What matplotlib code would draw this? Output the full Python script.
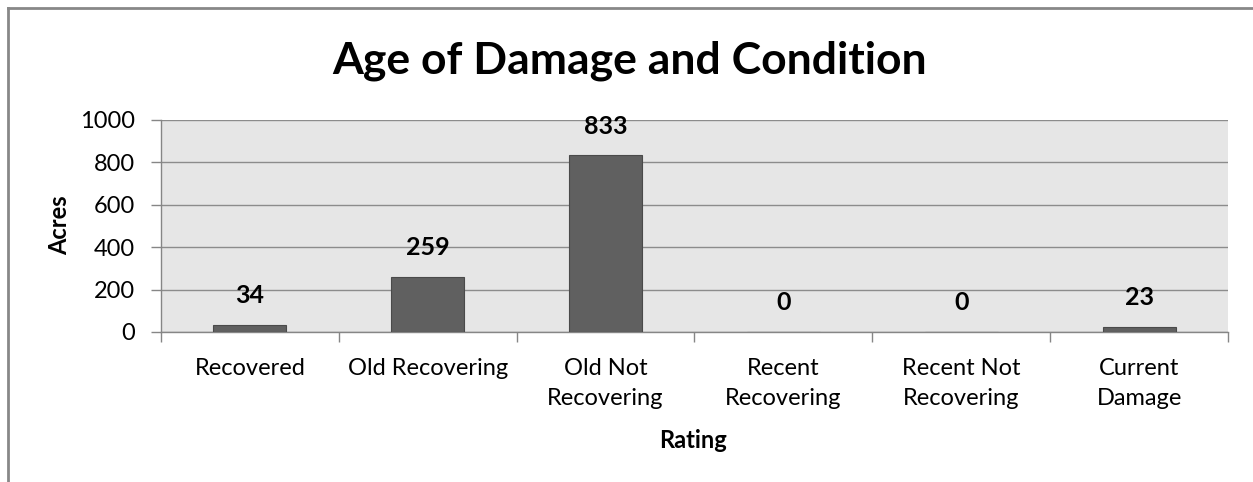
import matplotlib
matplotlib.use("Agg")
import matplotlib.pyplot as plt
from matplotlib.lines import Line2D
import numpy as np

categories = ["Recovered", "Old Recovering", "Old Not\nRecovering", "Recent\nRecovering", "Recent Not\nRecovering", "Current\nDamage"]
acres = [34, 259, 833, 0, 0, 23]
yticks = [0, 200, 400, 600, 800, 1000]

plt.rcParams['font.family'] = ['Lato', 'DejaVu Sans']

W, H = 1253, 482
fig = plt.figure(figsize=(W/100, H/100), dpi=100)
fig.patch.set_facecolor('white')

ax = fig.add_axes([161/W, 1-332/H, (1228-161)/W, (332-120)/H])
ax.set_facecolor('#e6e6e6')

x = np.arange(len(categories))
ax.bar(x, acres, width=0.41, color='#606060', edgecolor='#4a4a4a', linewidth=0.8, zorder=3)

for xi, v in zip(x, acres):
    ax.annotate(str(v), (xi, v), xytext=(0, 21), textcoords='offset points',
                ha='center', va='center', fontsize=18, fontweight='bold', color='black', zorder=4)

ax.set_xlim(-0.5, len(categories)-0.5)
ax.set_ylim(0, 1000)
ax.set_yticks(yticks)
ax.set_yticklabels([str(t) for t in yticks], fontsize=17)
ax.yaxis.grid(True, color='#8c8c8c', linewidth=1.0, zorder=1)
ax.set_axisbelow(True)

ax.set_xticks(x)
ax.set_xticklabels(categories, fontsize=17, linespacing=1.5)
ax.set_xticks(np.arange(-0.5, len(categories)), minor=True)
ax.tick_params(axis='x', which='major', length=0, pad=19)
ax.tick_params(axis='x', which='minor', length=7, color='#868686', width=1)
ax.tick_params(axis='y', length=7, color='#868686', width=1, pad=12)

for s in ['top', 'right']:
    ax.spines[s].set_visible(False)
for s in ['left', 'bottom']:
    ax.spines[s].set_color('#868686')
    ax.spines[s].set_linewidth(1)

fig.text(60/W, 1-225/H, "Acres", rotation=90, ha='center', va='center', fontsize=17, fontweight='bold')
fig.text(693/W, 1-440/H, "Rating", ha='center', va='center', fontsize=17, fontweight='bold')
fig.text(630/W, 1-61/H, "Age of Damage and Condition", ha='center', va='center', fontsize=32, fontweight='bold')

# outer border (top and left)
fig.add_artist(Line2D([8/W, 8/W], [0, 1-8/H], transform=fig.transFigure, color='#888888', linewidth=2))
fig.add_artist(Line2D([8/W, 1], [1-8/H, 1-8/H], transform=fig.transFigure, color='#888888', linewidth=2))

fig.savefig("out.png", dpi=100, facecolor='white')
